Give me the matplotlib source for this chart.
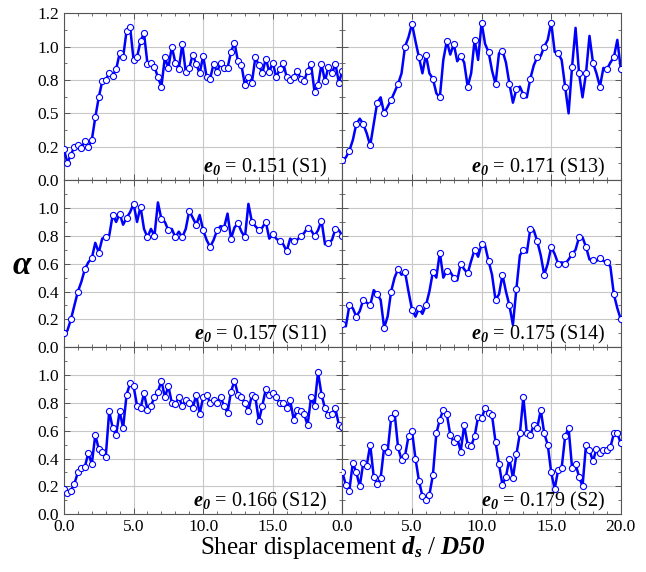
import numpy as np
import matplotlib
matplotlib.use("Agg")
import matplotlib.pyplot as plt
from matplotlib.ticker import MultipleLocator, FormatStrFormatter

plt.rcParams['font.family'] = ['Liberation Serif', 'DejaVu Serif']
plt.rcParams['mathtext.fontset'] = 'custom'
plt.rcParams['mathtext.rm'] = 'Liberation Serif'
plt.rcParams['mathtext.it'] = 'Liberation Serif:italic'
plt.rcParams['mathtext.bf'] = 'Liberation Serif:bold'
plt.rcParams['mathtext.bfit'] = 'Liberation Serif:italic:bold'

# shear displacement d_s / D50, step 0.25
ds = np.arange(0, 20.001, 0.25)

s1 = [0.23, 0.13, 0.19, 0.25, 0.26, 0.24, 0.29, 0.25, 0.30, 0.47, 0.62, 0.74, 0.75, 0.80, 0.78, 0.83,
      0.95, 0.92, 1.12, 1.15, 0.90, 0.92, 1.04, 1.10, 0.87, 0.88, 0.85, 0.77, 0.70, 0.92, 0.84, 1.00,
      0.88, 0.83, 1.02, 0.81, 0.84, 0.94, 0.87, 0.80, 0.93, 0.77, 0.76, 0.87, 0.81, 0.88, 0.84, 0.84,
      0.96, 1.03, 0.89, 0.86, 0.71, 0.77, 0.73, 0.92, 0.86, 0.80, 0.91, 0.81, 0.88, 0.77, 0.83, 0.88,
      0.77, 0.75, 0.77, 0.82, 0.76, 0.74, 0.82, 0.87, 0.66, 0.71, 0.87, 0.74, 0.85, 0.80, 0.87, 0.73, 0.82]

s13 = [0.15, 0.17, 0.22, 0.30, 0.42, 0.46, 0.42, 0.35, 0.26, 0.42, 0.58, 0.62, 0.50, 0.55, 0.60, 0.66,
       0.72, 0.80, 1.00, 1.07, 1.17, 1.04, 0.92, 0.80, 0.94, 0.80, 0.76, 0.65, 0.62, 0.90, 1.04, 0.94,
       1.02, 0.89, 0.93, 0.88, 0.70, 0.80, 1.05, 0.90, 1.18, 1.02, 0.96, 0.82, 0.72, 0.95, 0.97, 0.88,
       0.72, 0.58, 0.68, 0.70, 0.64, 0.62, 0.76, 0.86, 0.92, 0.93, 1.00, 1.05, 1.18, 0.96, 0.95, 0.90,
       0.70, 0.50, 0.85, 1.14, 0.80, 0.62, 0.80, 1.08, 0.88, 0.80, 0.70, 0.84, 0.83, 0.88, 0.92, 1.05, 0.83]

s11 = [0.10, 0.12, 0.20, 0.30, 0.40, 0.47, 0.56, 0.61, 0.64, 0.75, 0.68, 0.78, 0.79, 0.80, 0.95, 0.90,
       0.96, 0.88, 0.93, 0.97, 1.03, 0.90, 1.01, 0.85, 0.79, 0.85, 0.80, 1.04, 0.92, 0.90, 0.84, 0.85,
       0.79, 0.83, 0.79, 0.85, 0.98, 0.93, 0.88, 0.95, 0.84, 0.77, 0.72, 0.77, 0.84, 0.87, 0.86, 0.96,
       0.78, 0.86, 0.89, 0.83, 0.79, 1.03, 0.90, 0.87, 0.84, 0.86, 0.90, 0.78, 0.81, 0.78, 0.76, 0.74,
       0.69, 0.78, 0.76, 0.77, 0.80, 0.82, 0.86, 0.84, 0.80, 0.84, 0.91, 0.74, 0.75, 0.77, 0.85, 0.84, 0.80]

s14 = [0.17, 0.15, 0.30, 0.28, 0.22, 0.26, 0.34, 0.32, 0.30, 0.41, 0.38, 0.34, 0.14, 0.22, 0.40, 0.50,
       0.56, 0.52, 0.54, 0.40, 0.27, 0.22, 0.28, 0.24, 0.30, 0.40, 0.54, 0.50, 0.68, 0.50, 0.55, 0.54,
       0.50, 0.48, 0.60, 0.56, 0.53, 0.62, 0.70, 0.65, 0.74, 0.73, 0.62, 0.52, 0.34, 0.38, 0.52, 0.40,
       0.30, 0.16, 0.42, 0.66, 0.70, 0.68, 0.85, 0.84, 0.76, 0.66, 0.52, 0.60, 0.72, 0.67, 0.60, 0.61,
       0.60, 0.63, 0.67, 0.70, 0.79, 0.79, 0.72, 0.63, 0.63, 0.62, 0.64, 0.62, 0.61, 0.58, 0.38, 0.28, 0.20]

s12 = [0.18, 0.15, 0.17, 0.22, 0.30, 0.33, 0.34, 0.44, 0.36, 0.57, 0.47, 0.45, 0.41, 0.74, 0.62, 0.57,
       0.74, 0.62, 0.86, 0.94, 0.92, 0.78, 0.76, 0.87, 0.75, 0.78, 0.84, 0.88, 0.96, 0.84, 0.92, 0.80,
       0.79, 0.84, 0.78, 0.82, 0.80, 0.76, 0.86, 0.72, 0.84, 0.86, 0.80, 0.82, 0.80, 0.84, 0.78, 0.73,
       0.88, 0.96, 0.86, 0.84, 0.80, 0.74, 0.86, 0.84, 0.67, 0.78, 0.90, 0.86, 0.87, 0.84, 0.80, 0.80,
       0.76, 0.82, 0.68, 0.75, 0.74, 0.72, 0.64, 0.84, 0.78, 1.02, 0.86, 0.76, 0.71, 0.72, 0.76, 0.64, 0.63]

s2 = [0.30, 0.21, 0.17, 0.37, 0.30, 0.20, 0.37, 0.35, 0.50, 0.27, 0.22, 0.26, 0.48, 0.45, 0.69, 0.73,
      0.48, 0.39, 0.42, 0.56, 0.60, 0.40, 0.24, 0.13, 0.10, 0.14, 0.28, 0.58, 0.68, 0.75, 0.72, 0.57,
      0.52, 0.55, 0.45, 0.64, 0.50, 0.49, 0.56, 0.70, 0.69, 0.76, 0.73, 0.71, 0.52, 0.36, 0.21, 0.27,
      0.40, 0.26, 0.43, 0.58, 0.84, 0.58, 0.57, 0.64, 0.62, 0.75, 0.58, 0.50, 0.30, 0.18, 0.32, 0.33,
      0.56, 0.62, 0.33, 0.36, 0.27, 0.20, 0.50, 0.46, 0.38, 0.47, 0.44, 0.46, 0.46, 0.48, 0.58, 0.58, 0.51]

labels = [["0.151 (S1)", "0.171 (S13)"],
          ["0.157 (S11)", "0.175 (S14)"],
          ["0.166 (S12)", "0.179 (S2)"]]
series = [[s1, s13], [s11, s14], [s12, s2]]
mark_every = [[1, 2], [2, 2], [1, 1]]

fig, axes = plt.subplots(3, 2, figsize=(6.46, 5.72), dpi=100)
fig.subplots_adjust(left=0.099, right=0.961, bottom=0.101, top=0.977, wspace=0, hspace=0)

for r in range(3):
    for c in range(2):
        ax = axes[r, c]
        ax.plot(ds, series[r][c], color='#0000ff', lw=1.8, marker='o', ms=4.4,
                mfc='white', mec='#0000ff', mew=0.8, markevery=mark_every[r][c], zorder=3)
        ax.set_xlim(0, 20)
        if r == 0:
            ax.set_ylim(0, 1.25)
            ax.yaxis.set_major_locator(MultipleLocator(0.25))
            ax.yaxis.set_minor_locator(MultipleLocator(0.125))
        else:
            ax.set_ylim(0, 1.2)
            ax.yaxis.set_major_locator(MultipleLocator(0.2))
            ax.yaxis.set_minor_locator(MultipleLocator(0.1))
        ax.xaxis.set_major_locator(MultipleLocator(5))
        ax.xaxis.set_minor_locator(MultipleLocator(1))
        ax.xaxis.set_major_formatter(FormatStrFormatter('%.1f'))
        ax.yaxis.set_major_formatter(FormatStrFormatter('%.1f'))
        ax.grid(True, which='major', color='#c8c8c8', lw=0.8, zorder=0)
        ax.tick_params(which='both', direction='in', top=True, right=True,
                       colors='#555555', labelcolor='black', labelsize=12.5)
        ax.tick_params(which='major', length=4, width=0.7)
        ax.tick_params(which='minor', length=2, width=0.6)
        for sp in ax.spines.values():
            sp.set_color('#555555')
            sp.set_linewidth(0.8)
        if c == 1:
            ax.tick_params(labelleft=False)
        if r < 2:
            ax.tick_params(labelbottom=False)
        ax.text(0.945, 0.045, r'$\mathbfit{e}_{\mathbfit{0}}$' + ' = ' + labels[r][c],
                transform=ax.transAxes, ha='right', va='baseline', fontsize=14.5, zorder=4)

# hide overlapping tick labels at panel joins
fig.canvas.draw()
for r in (1, 2):
    for lb in axes[r, 0].get_yticklabels():
        if lb.get_text() == '1.2':
            lb.set_visible(False)
for lb in axes[2, 0].get_xticklabels():
    if lb.get_text() == '20.0':
        lb.set_visible(False)

fig.text(0.033, 0.535, 'α', fontsize=24, fontweight='bold', fontstyle='italic',
         ha='center', va='center')
fig.text(0.53, 0.042, r'Shear displacement $\mathbfit{d}_{\mathbfit{s}}$ / $\mathbfit{D50}$',
         fontsize=18, ha='center', va='center')

fig.savefig('out.png', dpi=100)
